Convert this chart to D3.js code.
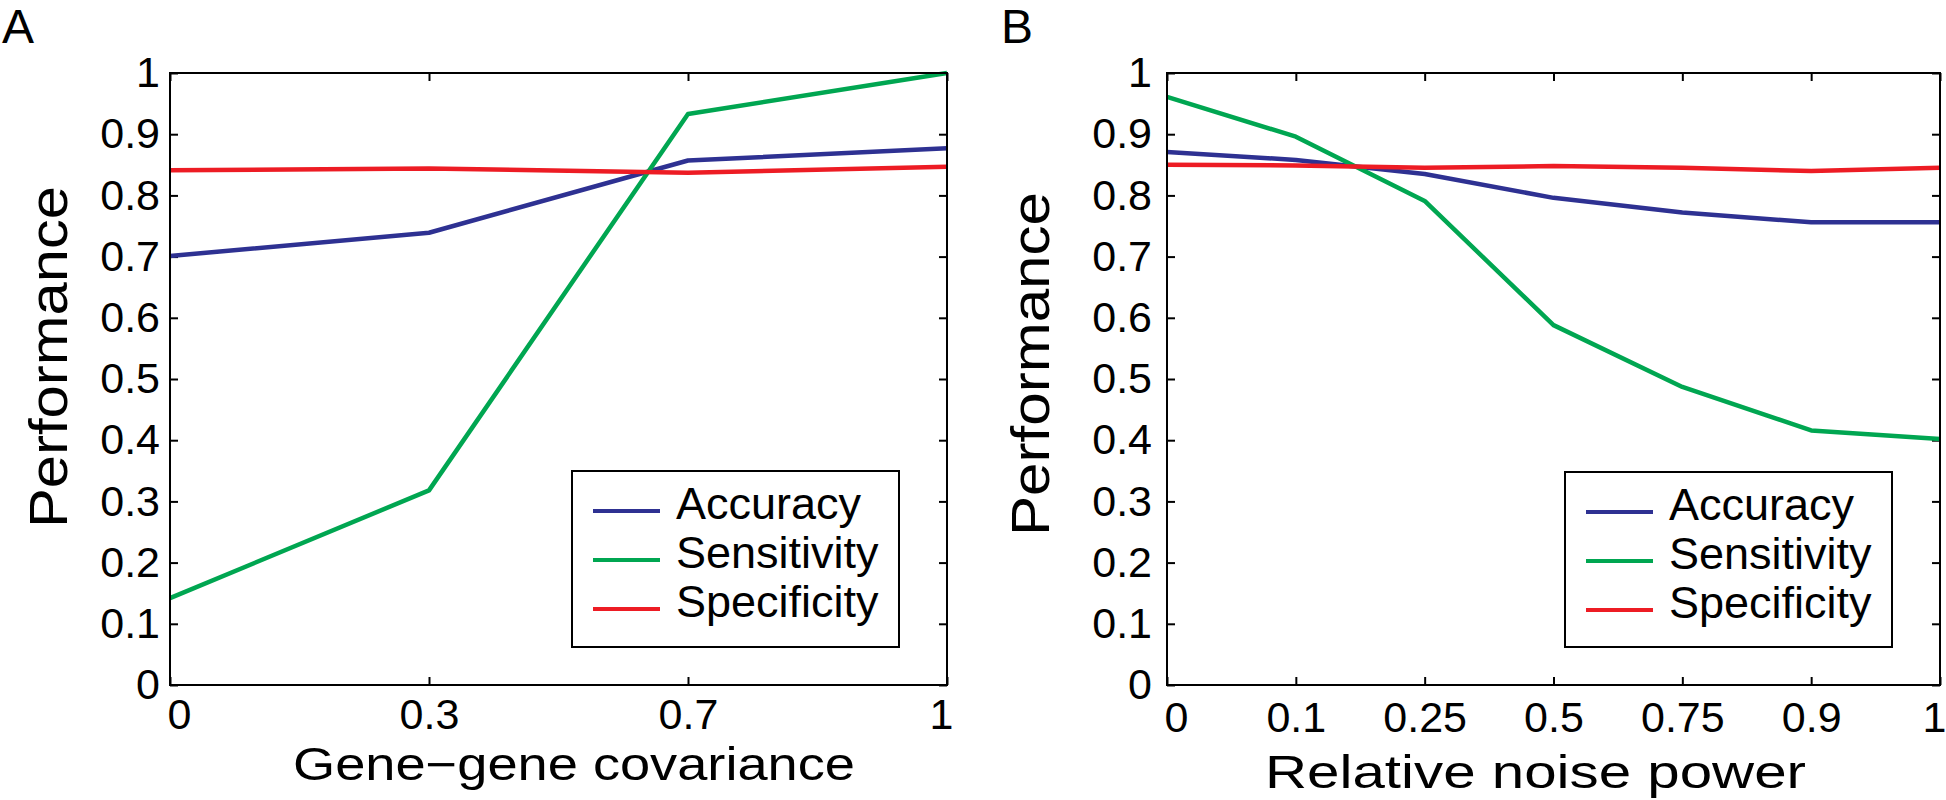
<!DOCTYPE html>
<html>
<head>
<meta charset="utf-8">
<script src="https://cdn.jsdelivr.net/npm/d3@7"></script>
<style>
  html, body { margin: 0; padding: 0; background: #fff; }
  svg { display: block; }
  text { font-family: "Liberation Sans", Arial, Helvetica, sans-serif; fill: #000; }
</style>
</head>
<body>
<svg id="chart" width="1946" height="800"></svg>
<script>
// ---------- data ----------
const seriesNames = ["Accuracy", "Sensitivity", "Specificity"];
const seriesColors = ["#2e3192", "#00a651", "#ed1c24"];
const yTicks = [0, 0.1, 0.2, 0.3, 0.4, 0.5, 0.6, 0.7, 0.8, 0.9, 1];

const xLabelsA = ["0", "0.3", "0.7", "1"];
const accuracyA    = [0.701, 0.739, 0.857, 0.877];
const sensitivityA = [0.142, 0.318, 0.933, 1.000];
const specificityA = [0.841, 0.844, 0.837, 0.847];

const xLabelsB = ["0", "0.1", "0.25", "0.5", "0.75", "0.9", "1"];
const accuracyB    = [0.871, 0.858, 0.835, 0.796, 0.772, 0.756, 0.756];
const sensitivityB = [0.961, 0.896, 0.791, 0.588, 0.487, 0.416, 0.402];
const specificityB = [0.850, 0.849, 0.845, 0.848, 0.845, 0.840, 0.845];

const panels = [
  { letter: "A", letterX: 2, left: 170, right: 947, xLabels: xLabelsA,
    series: [accuracyA, sensitivityA, specificityA],
    xTitle: "Gene\u2212gene covariance", xTitleX: 293, xTitleY: 780, xTitleLen: 562,
    yTitleX: 67, yTitleY: 528, yTitleLen: 342, yPad: 10, xPad: 13,
    legend: { x: 572, y: 471, w: 327, h: 176 } },
  { letter: "B", letterX: 1001, left: 1167, right: 1940, xLabels: xLabelsB,
    series: [accuracyB, sensitivityB, specificityB],
    xTitle: "Relative noise power", xTitleX: 1265, xTitleY: 788, xTitleLen: 541,
    yTitleX: 1049, yTitleY: 536, yTitleLen: 344, yPad: 15, xPad: 16,
    legend: { x: 1565, y: 472, w: 327, h: 175 } }
];

const plotTop = 73, plotBottom = 685;
const svg = d3.select("#chart");

panels.forEach(p => {
  const g = svg.append("g");
  const x = d3.scalePoint().domain(p.xLabels).range([p.left, p.right]).padding(0);
  const y = d3.scaleLinear().domain([0, 1]).range([plotBottom, plotTop]);

  // panel letter
  g.append("text").attr("x", p.letterX).attr("y", 43)
    .attr("font-size", 48).text(p.letter);

  // axes with inward ticks
  const fmt = d => String(+d.toFixed(1));
  const ax = [
    g.append("g").attr("transform", `translate(${p.left},0)`)
      .call(d3.axisLeft(y).tickValues(yTicks).tickSize(-8).tickSizeOuter(0).tickPadding(p.yPad).tickFormat(fmt)),
    g.append("g").attr("transform", `translate(${p.right},0)`)
      .call(d3.axisRight(y).tickValues(yTicks).tickSize(-8).tickSizeOuter(0).tickFormat("")),
    g.append("g").attr("transform", `translate(0,${plotBottom})`)
      .call(d3.axisBottom(x).tickSize(-8).tickSizeOuter(0).tickPadding(p.xPad)),
    g.append("g").attr("transform", `translate(0,${plotTop})`)
      .call(d3.axisTop(x).tickSize(-8).tickSizeOuter(0).tickFormat(""))
  ];
  ax.forEach(a => {
    a.select(".domain").remove();
    a.selectAll(".tick line").attr("stroke", "#000").attr("stroke-width", 2);
    a.selectAll(".tick text").attr("font-size", 43)
      .attr("font-family", "'Liberation Sans', Arial, sans-serif").attr("fill", "#000");
  });
  // first and last x labels nudged inward as in the reference
  const xt = ax[2].selectAll(".tick text");
  const n = xt.size();
  xt.attr("dx", (d, i) => i === 0 ? 9 : (i === n - 1 ? -6 : 0));

  // data lines
  const line = d3.line().x((d, i) => x(p.xLabels[i])).y(d => y(d));
  p.series.forEach((s, k) => {
    g.append("path").datum(s).attr("d", line)
      .attr("fill", "none").attr("stroke", seriesColors[k])
      .attr("stroke-width", 4.5).attr("stroke-linejoin", "round");
  });

  // frame
  g.append("rect").attr("x", p.left).attr("y", plotTop)
    .attr("width", p.right - p.left).attr("height", plotBottom - plotTop)
    .attr("fill", "none").attr("stroke", "#000").attr("stroke-width", 2);

  // axis titles
  g.append("text").attr("x", p.xTitleX).attr("y", p.xTitleY)
    .attr("font-size", 46).attr("textLength", p.xTitleLen)
    .attr("lengthAdjust", "spacingAndGlyphs").text(p.xTitle);
  g.append("text")
    .attr("transform", `translate(${p.yTitleX},${p.yTitleY}) rotate(-90)`)
    .attr("font-size", 53).attr("textLength", p.yTitleLen)
    .attr("lengthAdjust", "spacingAndGlyphs").text("Performance");

  // legend
  const L = p.legend;
  const lg = g.append("g");
  lg.append("rect").attr("x", L.x).attr("y", L.y).attr("width", L.w).attr("height", L.h)
    .attr("fill", "#fff").attr("stroke", "#000").attr("stroke-width", 2);
  seriesNames.forEach((name, k) => {
    const cy = L.y + 40 + k * 49;
    lg.append("line").attr("x1", L.x + 21).attr("x2", L.x + 88)
      .attr("y1", cy).attr("y2", cy)
      .attr("stroke", seriesColors[k]).attr("stroke-width", 4);
    lg.append("text").attr("x", L.x + 104).attr("y", cy + 8)
      .attr("font-size", 45).text(name);
  });
});
</script>
</body>
</html>
